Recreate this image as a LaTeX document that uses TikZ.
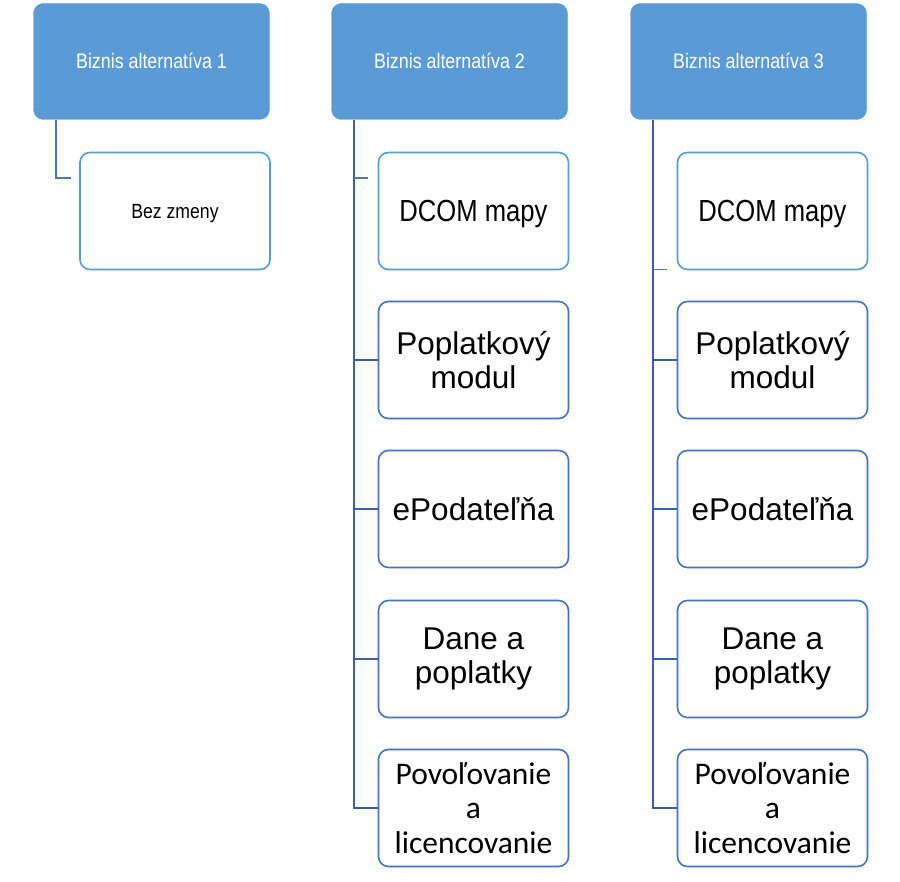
\documentclass[tikz,border=0pt]{standalone}
\usepackage{fontspec}
\setmainfont{Liberation Sans}
\newfontfamily\calibfont{Carlito}
\definecolor{hdrblue}{HTML}{5B9BD5}
\definecolor{lightbd}{HTML}{5B9BD5}
\definecolor{leafbd}{HTML}{4472C4}
\definecolor{trunkc}{HTML}{3A5FA6}
\definecolor{trunkl}{HTML}{4A78B0}
\begin{document}
\begin{tikzpicture}[x=1pt,y=-1pt,
  hdr/.style={draw=hdrblue, fill=hdrblue, rounded corners=10pt, minimum width=236pt, minimum height=116pt, inner sep=0pt, text=white, font=\fontsize{21}{25}\selectfont},
  leaf/.style={draw=leafbd, fill=white, rounded corners=10pt, minimum width=190pt, minimum height=117pt, inner sep=0pt, line width=1.6pt, align=center, font=\fontsize{31.5}{34.5}\selectfont},
  leafA/.style={leaf, draw=lightbd},
  trunk/.style={draw=trunkc, line width=2pt},
  trunkA/.style={draw=trunkl, line width=2pt},
  tickA/.style={draw=trunkl, line width=1.6pt}]
\useasboundingbox (0,0) rectangle (900,882);
% headers
\node[hdr] (h1) at (151.5,61.5) {\raisebox{1pt}[\height][\depth]{\scalebox{0.85}[1]{Biznis alternatíva 1}}};
\node[hdr] (h2) at (449.5,61.5) {\raisebox{1pt}[\height][\depth]{\scalebox{0.85}[1]{Biznis alternatíva 2}}};
\node[hdr] (h3) at (748.5,61.5) {\raisebox{1pt}[\height][\depth]{\scalebox{0.85}[1]{Biznis alternatíva 3}}};
% column 1
\node[leafA, font=\fontsize{20.5}{24}\selectfont] (c11) at (175,211) {\raisebox{-3pt}[\height][\depth]{\scalebox{0.86}[1]{Bez zmeny}}};
% column 2
\node[leafA] (c21) at (473.5,211) {\fontsize{30.5}{34}\selectfont\raisebox{-3pt}[\height][\depth]{\scalebox{0.84}[1]{DCOM mapy}}};
\node[leaf] (c22) at (473.5,360) {Poplatkový\\modul};
\node[leaf] (c23) at (473.5,509) {ePodateľňa};
\node[leaf] (c24) at (473.5,659) {Dane a\\poplatky};
\node[leaf, font=\calibfont\fontsize{31.5}{34.5}\selectfont] (c25) at (473.5,808) {Povoľovanie\\a\\licencovanie};
% column 3
\node[leafA] (c31) at (772.5,211) {\fontsize{30.5}{34}\selectfont\raisebox{-3pt}[\height][\depth]{\scalebox{0.84}[1]{DCOM mapy}}};
\node[leaf] (c32) at (772.5,360) {Poplatkový\\modul};
\node[leaf] (c33) at (772.5,509) {ePodateľňa};
\node[leaf] (c34) at (772.5,659) {Dane a\\poplatky};
\node[leaf, font=\calibfont\fontsize{31.5}{34.5}\selectfont] (c35) at (772.5,808) {Povoľovanie\\a\\licencovanie};
% trunk positions
\coordinate (t1) at (55.5,0);
\coordinate (t2) at (354,0);
\coordinate (t3) at (653,0);
\coordinate (e1) at (70.5,178);
\coordinate (e2) at (368,178);
\coordinate (e3) at (667,269.5);
% connectors column 1
\draw[trunkA] (h1.south -| t1) |- (e1);
% connectors column 2
\draw[trunk] (h2.south -| t2) |- (c25.west);
\draw[tickA] (t2 |- e2) -- (e2);
\draw[trunk] (t2 |- c22.west) -- (c22.west);
\draw[trunk] (t2 |- c23.west) -- (c23.west);
\draw[trunk] (t2 |- c24.west) -- (c24.west);
% connectors column 3
\draw[trunk] (h3.south -| t3) |- (c35.west);
\draw[tickA] (t3 |- e3) -- (e3);
\draw[trunk] (t3 |- c32.west) -- (c32.west);
\draw[trunk] (t3 |- c33.west) -- (c33.west);
\draw[trunk] (t3 |- c34.west) -- (c34.west);
\end{tikzpicture}
\end{document}
